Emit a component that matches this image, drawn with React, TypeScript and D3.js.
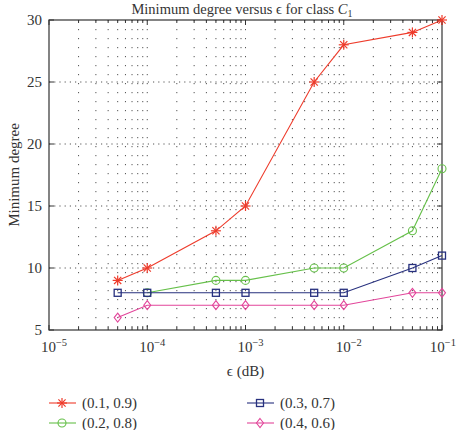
import React from "react";
import * as d3 from "d3";

const xs = [5e-5, 1e-4, 5e-4, 1e-3, 5e-3, 1e-2, 5e-2, 1e-1];
const seriesA = [9, 10, 13, 15, 25, 28, 29, 30]; // (0.1, 0.9)
const seriesB = [null, 8, 9, 9, 10, 10, 13, 18]; // (0.2, 0.8)
const seriesC = [8, 8, 8, 8, 8, 8, 10, 11]; // (0.3, 0.7)
const seriesD = [6, 7, 7, 7, 7, 7, 8, 8]; // (0.4, 0.6)
const labels = ["(0.1, 0.9)", "(0.2, 0.8)", "(0.3, 0.7)", "(0.4, 0.6)"];
const colors = ["#ee3b2b", "#66c04a", "#27307e", "#e2459a"];
const markers = ["star", "circle", "square", "diamond"];
const decades = [-5, -4, -3, -2, -1];
const yTicks = [5, 10, 15, 20, 25, 30];

const W = 457, H = 430;
const M = { left: 49, right: 442, top: 20, bottom: 330 };
const font = "'Liberation Serif', 'DejaVu Serif', serif";
const ink = "#333";

function Marker({ type, x, y, c }: { type: string; x: number; y: number; c: string }) {
  if (type === "star") {
    const r = 5, d = 3.6;
    return (
      <g stroke={c} strokeWidth={1.2}>
        <line x1={x - r} y1={y} x2={x + r} y2={y} />
        <line x1={x} y1={y - r} x2={x} y2={y + r} />
        <line x1={x - d} y1={y - d} x2={x + d} y2={y + d} />
        <line x1={x - d} y1={y + d} x2={x + d} y2={y - d} />
      </g>
    );
  }
  if (type === "circle") return <circle cx={x} cy={y} r={4} fill="none" stroke={c} strokeWidth={1.1} />;
  if (type === "square") return <rect x={x - 3.5} y={y - 3.5} width={7} height={7} fill="none" stroke={c} strokeWidth={1.3} />;
  return <path d={`M${x},${y - 4.5}L${x + 3.5},${y}L${x},${y + 4.5}L${x - 3.5},${y}Z`} fill="none" stroke={c} strokeWidth={1.1} />;
}

export default function App() {
  const x = d3.scaleLog().domain([1e-5, 1e-1]).range([M.left, M.right]);
  const y = d3.scaleLinear().domain([5, 30]).range([M.bottom, M.top]);
  const all = [seriesA, seriesB, seriesC, seriesD];
  const line = d3
    .line<[number, number | null]>()
    .defined((d) => d[1] != null)
    .x((d) => x(d[0]))
    .y((d) => y(d[1] as number));

  const minor: number[] = [];
  decades.slice(0, -1).forEach((p) => {
    for (let k = 2; k <= 9; k++) minor.push(k * Math.pow(10, p));
  });

  return (
    <svg width={W} height={H} style={{ position: "absolute", left: 0, top: 0 }} fontFamily={font}>
      <rect width={W} height={H} fill="#fff" />
      {/* vertical grid */}
      {[...minor, ...decades.slice(1, -1).map((p) => Math.pow(10, p))].map((v, i) => (
        <line key={"vg" + i} x1={x(v)} x2={x(v)} y1={M.top} y2={M.bottom} stroke="#555" strokeWidth={1} strokeDasharray="1.2,7.8" />
      ))}
      {/* horizontal grid */}
      {yTicks.slice(1, -1).map((v) => (
        <line key={"hg" + v} x1={M.left} x2={M.right} y1={y(v)} y2={y(v)} stroke="#555" strokeWidth={1} strokeDasharray="1.2,4" />
      ))}
      {/* ticks */}
      {minor.map((v, i) => (
        <g key={"mt" + i} stroke={ink}>
          <line x1={x(v)} x2={x(v)} y1={M.bottom} y2={M.bottom - 3} />
          <line x1={x(v)} x2={x(v)} y1={M.top} y2={M.top + 3} />
        </g>
      ))}
      {decades.map((p) => (
        <g key={"Mt" + p} stroke={ink}>
          <line x1={x(Math.pow(10, p))} x2={x(Math.pow(10, p))} y1={M.bottom} y2={M.bottom - 5} />
          <line x1={x(Math.pow(10, p))} x2={x(Math.pow(10, p))} y1={M.top} y2={M.top + 5} />
        </g>
      ))}
      {yTicks.map((v) => (
        <g key={"yt" + v} stroke={ink}>
          <line x1={M.left} x2={M.left + 5} y1={y(v)} y2={y(v)} />
          <line x1={M.right} x2={M.right - 5} y1={y(v)} y2={y(v)} />
        </g>
      ))}
      <rect x={M.left} y={M.top} width={M.right - M.left} height={M.bottom - M.top} fill="none" stroke={ink} strokeWidth={1.2} />
      {/* series */}
      {all.map((s, i) => (
        <g key={"s" + i}>
          <path d={line(xs.map((v, j) => [v, s[j]]) as [number, number | null][]) || ""} fill="none" stroke={colors[i]} strokeWidth={1.1} />
          {xs.map((v, j) =>
            s[j] == null ? null : <Marker key={j} type={markers[i]} x={x(v)} y={y(s[j] as number)} c={colors[i]} />
          )}
        </g>
      ))}
      {/* y tick labels */}
      {yTicks.map((v) => (
        <text key={"yl" + v} x={M.left - 7} y={y(v) + 5} textAnchor="end" fontSize={15} fill={ink}>
          {v}
        </text>
      ))}
      {/* x tick labels */}
      {decades.map((p, i) => {
        const last = i === decades.length - 1;
        return (
          <text
            key={"xl" + p}
            x={last ? W - 1 : x(Math.pow(10, p)) + 5}
            y={M.bottom + 22}
            textAnchor={last ? "end" : "middle"}
            fontSize={15}
            fill={ink}
          >
            10
            <tspan dy={-6} fontSize={10.5}>{"\u2212" + Math.abs(p)}</tspan>
          </text>
        );
      })}
      <text x={(M.left + M.right) / 2} y={M.bottom + 46} textAnchor="middle" fontSize={15} fill={ink}>
        ϵ (dB)
      </text>
      <text transform={`translate(19,${(M.top + M.bottom) / 2}) rotate(-90)`} textAnchor="middle" fontSize={15} fill={ink}>
        Minimum degree
      </text>
      <text x={242} y={14} textAnchor="middle" fontSize={14.5} fill={ink}>
        Minimum degree versus ϵ for class <tspan fontStyle="italic">C</tspan>
        <tspan dy={3} fontSize={10}>1</tspan>
      </text>
      {/* legend */}
      {labels.map((l, i) => {
        const lx = i < 2 ? 49 : 247;
        const ly = i % 2 === 0 ? 403 : 423;
        return (
          <g key={"lg" + i}>
            <line x1={lx} x2={lx + 27} y1={ly} y2={ly} stroke={colors[i]} strokeWidth={1.1} />
            <Marker type={markers[i]} x={lx + 13} y={ly} c={colors[i]} />
            <text x={lx + 33} y={ly + 5} fontSize={15} fill={ink}>
              {l}
            </text>
          </g>
        );
      })}
    </svg>
  );
}
